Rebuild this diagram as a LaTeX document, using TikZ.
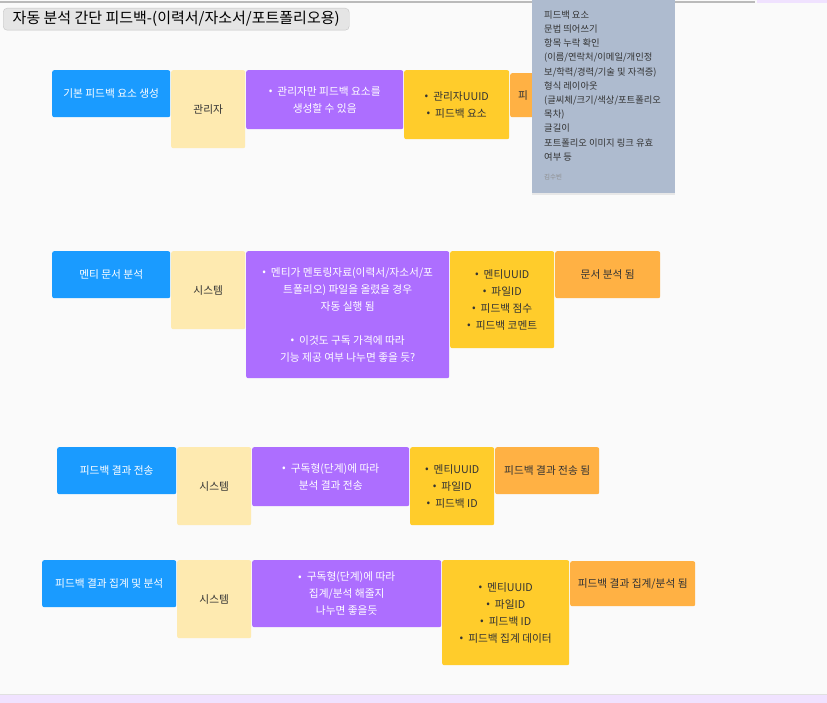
\documentclass[tikz,border=0pt]{standalone}
\usepackage{fontspec}
\setmainfont{Noto Sans CJK KR}
\usetikzlibrary{shadows}
\definecolor{bgc}{HTML}{FAFAFA}
\definecolor{actorblue}{HTML}{1A9BFF}
\definecolor{rolecream}{HTML}{FEEAB0}
\definecolor{notepurple}{HTML}{AD6EFF}
\definecolor{datayellow}{HTML}{FFCC2B}
\definecolor{resultorange}{HTML}{FFB144}
\definecolor{stickyblue}{HTML}{AEBBCF}
\definecolor{inkdark}{HTML}{333333}
\definecolor{bandpurple}{HTML}{F0E2FF}
\tikzset{
  x=1pt, y=-1pt,
  card/.style={anchor=north west, inner sep=0pt, rounded corners=2pt, align=center,
    font=\fontsize{10.7}{17}\selectfont},
  actor/.style={card, fill=actorblue, text=white},
  role/.style={card, fill=rolecream, text=inkdark},
  memo/.style={card, fill=notepurple, text=white},
  datum/.style={card, fill=datayellow, text=inkdark},
  outcome/.style={card, fill=resultorange, text=inkdark},
}
\newcommand{\bul}{\raisebox{0.3pt}{•}\hspace{5pt}}
\newcommand{\cardbox}[6]{% style, name, x, y, w, h; the text follows
  \node[#1, minimum width=#5pt, minimum height=#6pt] (#2) at (#3,#4)}
\begin{document}
\begin{tikzpicture}
\useasboundingbox (0,0) rectangle (827,703);
\fill[bgc] (0,0) rectangle (827,703);
% window edges
\draw[line width=1.5pt, color=black!27] (0,2) -- (755,2);
\fill[bandpurple] (757,0) rectangle (827,3);
\draw[line width=1pt, color=black!12] (0,694) -- (827,694);
\fill[bandpurple] (0,695) rectangle (827,703);

% title
\node[anchor=north west, draw=black!23, fill=black!10, rounded corners=4pt,
  minimum width=346pt, minimum height=22pt, inner sep=0pt,
  font=\fontsize{15}{17}\selectfont] (title) at (3,8)
  {자동 분석 간단 피드백-(이력서/자소서/포트폴리오용)};

% row 1
\cardbox{actor}{a1}{52}{70}{118}{47} {기본 피드백 요소 생성};
\cardbox{role}{r1}{171}{70}{74}{78} {관리자};
\cardbox{memo}{m1}{246}{70}{157}{59} {\bul 관리자만 피드백 요소를\\생성할 수 있음};
\cardbox{datum}{d1}{404}{70}{105}{69} {\bul 관리자UUID\\\bul 피드백 요소};
\node[outcome, minimum width=110pt, minimum height=44pt, text width=94pt,
  inner xsep=8pt, align=left] (o1) at (510,73) {피};

% row 2
\cardbox{actor}{a2}{52}{251}{118}{47} {멘티 문서 분석};
\cardbox{role}{r2}{171}{251}{74}{78} {시스템};
\cardbox{memo}{m2}{246}{251}{203}{127}
  {\bul 멘티가 멘토링자료(이력서/자소서/포\\트폴리오) 파일을 올렸을 경우\\자동 실행 됨\\[17pt]\bul 이것도 구독 가격에 따라\\기능 제공 여부 나누면 좋을 듯?};
\cardbox{datum}{d2}{450}{251}{104}{97} {\bul 멘티UUID\\\bul 파일ID\\\bul 피드백 점수\\\bul 피드백 코멘트};
\cardbox{outcome}{o2}{555}{251}{105}{47} {문서 분석 됨};

% row 3
\cardbox{actor}{a3}{57}{447}{119}{47} {피드백 결과 전송};
\cardbox{role}{r3}{177}{447}{74}{78} {시스템};
\cardbox{memo}{m3}{252}{447}{157}{59} {\bul 구독형(단계)에 따라\\분석 결과 전송};
\cardbox{datum}{d3}{410}{447}{84}{78} {\bul 멘티UUID\\\bul 파일ID\\\bul 피드백 ID};
\cardbox{outcome}{o3}{495}{447}{104}{47} {피드백 결과 전송 됨};

% row 4
\cardbox{actor}{a4}{42}{560}{134}{47} {피드백 결과 집계 및 분석};
\cardbox{role}{r4}{177}{560}{74}{78} {시스템};
\cardbox{memo}{m4}{252}{560}{189}{67} {\bul 구독형(단계)에 따라\\집계/분석 해줄지\\나누면 좋을듯};
\cardbox{datum}{d4}{442}{560}{127}{105} {\bul 멘티UUID\\\bul 파일ID\\\bul 피드백 ID\\\bul 피드백 집계 데이터};
\cardbox{outcome}{o4}{570}{561}{125}{45} {피드백 결과 집계/분석 됨};

% sticky note
\node[anchor=north west, fill=stickyblue, minimum width=143pt, minimum height=193pt,
  inner sep=0pt, drop shadow={opacity=0.15, shadow xshift=0pt, shadow yshift=-1.5pt}]
  (sticky) at (532,0) {};
\node[anchor=north west, inner sep=0pt, align=left, text=inkdark,
  font=\fontsize{9.3}{14.2}\selectfont] (stickytext) at (544,10.5)
  {피드백 요소\\문법 띄어쓰기\\항목 누락 확인\\(이름/연락처/이메일/개인정\\보/학력/경력/기술 및 자격증)\\형식 레이아웃\\(글씨체/크기/색상/포트폴리오\\목차)\\글길이\\포트폴리오 이미지 링크 유효\\여부 등};
\node[anchor=west, inner sep=0pt, text=black!45, font=\fontsize{6.5}{8}\selectfont]
  (author) at (544,177) {김수빈};
\end{tikzpicture}
\end{document}
